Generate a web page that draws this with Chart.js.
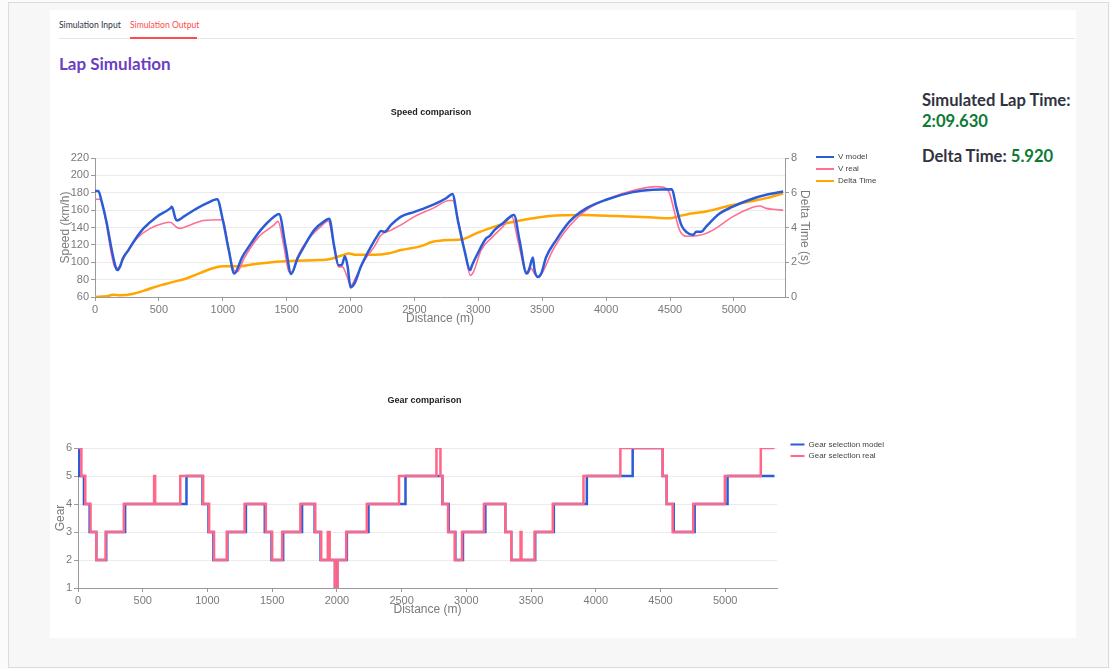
<!DOCTYPE html>
<html>
<head>
<meta charset="utf-8">
<title>Lap Simulation</title>
<script src="https://cdn.jsdelivr.net/npm/chart.js@4.4.1/dist/chart.umd.min.js"></script>
<style>
  html, body { margin: 0; padding: 0; }
  body { width: 1110px; height: 669px; position: relative; background: #fbfbfb; font-family: "Lato", "Noto Sans", sans-serif; overflow: hidden; }
  .frame { position: absolute; left: 8px; top: 2px; width: 1099px; height: 664px; border: 1px solid #dcdcdc; background: #f7f7f7; }
  .panel { position: absolute; left: 50px; top: 10px; width: 1026px; height: 628px; background: #fff; }
  .tab { position: absolute; top: 20px; font-size: 8.6px; color: #31333f; white-space: nowrap; }
  .tab.active { color: #ff4b4b; }
  .tabline { position: absolute; left: 59px; top: 38px; width: 1016px; height: 1px; background: #e4e4e4; }
  .tabsel { position: absolute; left: 130px; top: 37px; width: 67px; height: 2px; background: #ff4b4b; }
  h1 { position: absolute; left: 59px; top: 53px; margin: 0; font-size: 17px; font-weight: 700; color: #6b3fbf; }
  .stat { position: absolute; left: 922px; margin: 0; font-size: 16.6px; font-weight: 700; color: #31333f; white-space: nowrap; }
  .green { color: #0b7a33; }
  canvas { position: absolute; }
  #speed-chart { left: 40px; top: 100px; }
  #gear-chart { left: 40px; top: 390px; }
</style>
</head>
<body>
<div class="frame"></div>
<div class="panel"></div>
<div class="tab" style="left:59px">Simulation Input</div>
<div class="tab active" style="left:130px">Simulation Output</div>
<div class="tabline"></div>
<div class="tabsel"></div>
<h1>Lap Simulation</h1>
<div class="stat" style="top:90px">Simulated Lap Time:</div>
<div class="stat green" style="top:111px">2:09.630</div>
<div class="stat" style="top:146px">Delta Time: <span class="green">5.920</span></div>

<canvas id="speed-chart" width="870" height="232"></canvas>
<canvas id="gear-chart" width="867" height="233"></canvas>

<script>
// speed, model
const modelDist = [0, 26, 52, 92, 131, 165, 175, 196, 217, 262, 327, 380, 484, 589, 602, 628, 641, 694, 798, 877, 956,
  1000, 1047, 1090, 1152, 1204, 1296, 1401, 1440, 1492, 1535, 1584, 1636, 1715, 1793, 1833, 1872, 1906, 1932,
  1956, 1977, 2000, 2029, 2081, 2160, 2212, 2238, 2265, 2317, 2395, 2500, 2644, 2748, 2797, 2839, 2891, 2936, 2951, 2988,
  3061, 3087, 3126, 3192, 3279, 3322, 3378, 3400, 3427, 3440, 3466, 3492, 3531, 3609, 3713, 3844, 4000, 4209, 4366, 4515,
  4548, 4588, 4627, 4681, 4705, 4744, 4783, 4888, 4992, 5123, 5253, 5386];
const modelSpeed = [182, 182, 170, 145, 114, 93, 91, 95, 104, 114, 129, 139, 152.5, 162, 164, 151, 148, 152.5, 162, 168, 172.6,
  149, 114, 87, 106, 118, 137, 152.5, 155.5, 118, 86.5, 104, 118, 137, 147, 150, 118, 96.6, 97,
  107, 95, 71, 75, 95, 118, 131, 136, 135, 143, 152.5, 158, 166, 173.7, 178.7, 148.7, 114, 91, 96.6, 108,
  127.5, 130, 137, 145, 154.5, 125.5, 87, 93, 105.5, 91, 83, 87, 106, 125.5, 146.7, 162, 172, 180.7, 183.4, 184,
  164, 143, 135, 131.5, 135, 135, 141, 156, 164, 172, 177.6, 181.4];

// speed, real
const realDist = [0, 39, 79, 118, 149, 175, 202, 249, 327, 432, 537, 589, 641, 668, 746, 851, 1000, 1047, 1086, 1113, 1165,
  1270, 1401, 1432, 1479, 1518, 1545, 1584, 1663, 1767, 1825, 1867, 1906, 1937, 1964, 2003, 2042, 2107, 2186, 2238, 2317,
  2395, 2500, 2644, 2774, 2800, 2852, 2904, 2936, 2962, 3022, 3113, 3192, 3262, 3309, 3361, 3387, 3413, 3439, 3473, 3505,
  3583, 3687, 3844, 4053, 4209, 4394, 4470, 4496, 4535, 4575, 4627, 4731, 4836, 4992, 5123, 5204, 5253, 5305, 5386];
const realSpeed = [172.6, 172.6, 152.5, 118, 96.6, 93, 98, 112, 127.5, 139, 145, 146, 140, 139, 143, 148, 149, 114, 91, 89, 104,
  127.5, 143, 147, 118, 89, 89, 106, 125.5, 141, 147.5, 121.7, 94.7, 94.7, 87, 73.5, 83, 102, 118, 131, 137,
  143, 152.5, 162, 171, 171, 141, 106, 85, 89, 114, 129.5, 141, 152.5, 125.5, 93, 87, 93, 87, 83, 89,
  114, 137, 160, 175, 182.6, 187, 185, 179.6, 158, 137, 130, 131, 137, 152.5, 162, 164.7, 162, 161, 160];

// delta time (s)
const deltaDist = [0, 92, 144, 196, 301, 406, 510, 615, 720, 825, 956, 1000, 1139, 1244, 1401, 1558, 1715, 1820, 1924, 1990,
  2042, 2186, 2291, 2395, 2552, 2644, 2774, 2865, 2983, 3087, 3218, 3348, 3426, 3557, 3818, 4079, 4340, 4498, 4575, 4679,
  4783, 4888, 4992, 5123, 5253, 5386];
const deltaTime = [0, 0.04, 0.13, 0.1, 0.19, 0.42, 0.67, 0.87, 1.08, 1.39, 1.73, 1.77, 1.77, 1.89, 2.02, 2.08, 2.12, 2.16, 2.37, 2.5,
  2.43, 2.43, 2.5, 2.7, 2.93, 3.18, 3.28, 3.31, 3.66, 3.95, 4.24, 4.43, 4.53, 4.66, 4.72, 4.66, 4.59, 4.53, 4.66, 4.82,
  4.92, 5.11, 5.3, 5.49, 5.69, 5.97];

// gear, model (value holds from its distance until the next one)
const gearModelDist = [0, 8, 46, 90, 141, 218, 364, 838, 962, 1008, 1046, 1154, 1297, 1443, 1495, 1585, 1731, 1828, 1874, 1985,
  2003, 2077, 2244, 2530, 2815, 2864, 2915, 2974, 3147, 3301, 3347, 3532, 3676, 3931, 4285, 4517, 4548, 4602, 4764, 5018, 5380];
const gearModel = [6, 5, 4, 3, 2, 3, 4, 5, 4, 3, 2, 3, 4, 3, 2, 3, 4, 3, 2, 1,
  2, 3, 4, 5, 4, 3, 2, 3, 4, 3, 2, 3, 4, 5, 6, 5, 4, 3, 4, 5, 5];

// gear, real
const gearRealDist = [0, 26, 56, 97, 141, 213, 354, 588, 596, 790, 967, 1013, 1051, 1149, 1287, 1451, 1500, 1577, 1718, 1833,
  1879, 1930, 1944, 1985, 2005, 2072, 2231, 2480, 2769, 2800, 2815, 2859, 2910, 2967, 3136, 3301, 3347, 3419, 3426, 3527,
  3668, 3905, 4190, 4517, 4548, 4594, 4753, 4997, 5275, 5380];
const gearReal = [6, 5, 4, 3, 2, 3, 4, 5, 4, 5, 4, 3, 2, 3, 4, 3, 2, 3, 4, 3,
  2, 3, 2, 1, 2, 3, 4, 5, 6, 5, 4, 3, 2, 3, 4, 3, 2, 3, 2, 3,
  4, 5, 6, 5, 4, 3, 4, 5, 6, 6];

const distTicks = [0, 500, 1000, 1500, 2000, 2500, 3000, 3500, 4000, 4500, 5000];

function pts(xs, ys) {
  return xs.map((x, i) => ({ x: x, y: ys[i] }));
}

const tickFont = { family: 'Liberation Sans, Arial, sans-serif', size: 11 };
const titleFont = { family: 'Liberation Sans, Arial, sans-serif', size: 12 };
const legendFont = { family: 'Liberation Sans, Arial, sans-serif', size: 8 };
const axisGray = '#9a9a9a';
const textGray = '#7a7a7a';

// flat legend swatches, no outline
function flatLabels(chart) {
  return Chart.defaults.plugins.legend.labels.generateLabels(chart).map(l => {
    l.lineWidth = 0;
    return l;
  });
}

// nudges legend box and title centre after layout
const boxNudge = {
  id: 'boxNudge',
  afterLayout(chart, args, opts) {
    const lg = chart.legend;
    if (lg && opts.legendTop != null) {
      const h = lg.bottom - lg.top;
      lg.top = opts.legendTop;
      lg.bottom = opts.legendTop + h;
      lg.right = lg.left + opts.legendWidth;
      lg.width = opts.legendWidth;
    }
    const tb = chart.titleBlock;
    if (tb && opts.titleDx) {
      tb.left += opts.titleDx;
      tb.right += opts.titleDx;
    }
  }
};

function distanceAxis() {
  return {
    type: 'linear',
    min: 0,
    max: 5400,
    afterBuildTicks: s => { s.ticks = distTicks.map(v => ({ value: v })); },
    ticks: { font: tickFont, color: textGray, padding: 2, maxRotation: 0, autoSkip: false, callback: v => String(v) },
    grid: { drawOnChartArea: false, tickLength: 4, tickColor: axisGray },
    border: { color: axisGray },
    title: { display: true, text: 'Distance (m)', font: titleFont, color: textGray, padding: { top: 0, bottom: 6.5 } },
    afterFit: s => { s.height = 35; }
  };
}

new Chart(document.getElementById('speed-chart'), {
  type: 'line',
  data: {
    datasets: [
      { label: 'V model', data: pts(modelDist, modelSpeed), borderColor: '#2b5bd6', backgroundColor: '#2b5bd6',
        borderWidth: 2.5, pointRadius: 0, cubicInterpolationMode: 'monotone', yAxisID: 'y' },
      { label: 'V real', data: pts(realDist, realSpeed), borderColor: '#ff6f93', backgroundColor: '#ff6f93',
        borderWidth: 1.6, pointRadius: 0, cubicInterpolationMode: 'monotone', yAxisID: 'y' },
      { label: 'Delta Time', data: pts(deltaDist, deltaTime), borderColor: '#ffa600', backgroundColor: '#ffa600',
        borderWidth: 2.5, pointRadius: 0, cubicInterpolationMode: 'monotone', yAxisID: 'y1' }
    ]
  },
  options: {
    responsive: false,
    animation: false,
    layout: { padding: { right: 40 } },
    scales: {
      x: distanceAxis(),
      y: {
        position: 'left', min: 60, max: 220,
        ticks: { stepSize: 20, font: tickFont, color: textGray, padding: 2 },
        grid: { color: '#ebebeb', tickLength: 4, tickColor: axisGray },
        border: { color: axisGray },
        title: { display: true, text: 'Speed (km/h)', font: titleFont, color: textGray, padding: { top: 18 } },
        afterFit: s => { s.width = 55; }
      },
      y1: {
        position: 'right', min: 0, max: 8,
        ticks: { stepSize: 2, font: tickFont, color: textGray, padding: 2 },
        grid: { drawOnChartArea: false, tickLength: 4, tickColor: axisGray },
        border: { color: axisGray },
        title: { display: true, text: 'Delta Time (s)', font: titleFont, color: textGray, padding: { top: 0 } },
        afterFit: s => { s.width = 27; }
      }
    },
    plugins: {
      title: { display: true, text: 'Speed comparison', color: '#222', fullSize: false,
        font: { family: 'Liberation Sans, Arial, sans-serif', size: 9, weight: 'bold' }, padding: { top: 7.6, bottom: 39.6 } },
      legend: {
        position: 'right', align: 'start', maxWidth: 58,
        labels: { boxWidth: 18, boxHeight: 2, padding: 4, color: '#444', font: legendFont, generateLabels: flatLabels }
      },
      boxNudge: { legendTop: 49, legendWidth: 90, titleDx: -9 },
      tooltip: { enabled: false }
    }
  },
  plugins: [boxNudge]
});

new Chart(document.getElementById('gear-chart'), {
  type: 'line',
  data: {
    datasets: [
      { label: 'Gear selection model', data: pts(gearModelDist, gearModel), borderColor: '#2b5bd6', backgroundColor: '#2b5bd6',
        borderWidth: 2.5, pointRadius: 0, stepped: 'before', order: 1 },
      { label: 'Gear selection real', data: pts(gearRealDist, gearReal), borderColor: '#ff6688', backgroundColor: '#ff6688',
        borderWidth: 2.5, pointRadius: 0, stepped: 'before', order: 0 }
    ]
  },
  options: {
    responsive: false,
    animation: false,
    layout: { padding: { right: 50 } },
    scales: {
      x: distanceAxis(),
      y: {
        position: 'left', min: 1, max: 6,
        ticks: { stepSize: 1, font: tickFont, color: textGray, padding: 2 },
        grid: { color: '#ebebeb', tickLength: 4, tickColor: axisGray },
        border: { color: axisGray },
        title: { display: true, text: 'Gear', font: titleFont, color: textGray, padding: { top: 13.5 } },
        afterFit: s => { s.width = 38; }
      },
      yR: {
        position: 'right', min: 0, max: 1,
        ticks: { display: false },
        grid: { display: false },
        border: { display: false },
        afterFit: s => { s.width = 10; }
      }
    },
    plugins: {
      title: { display: true, text: 'Gear comparison', color: '#222', fullSize: false,
        font: { family: 'Liberation Sans, Arial, sans-serif', size: 9, weight: 'bold' }, padding: { top: 5.6, bottom: 41.6 } },
      legend: {
        position: 'right', align: 'start', maxWidth: 70,
        labels: { boxWidth: 14, boxHeight: 2, padding: 3.5, color: '#444', font: legendFont,
          generateLabels: flatLabels, sort: (a, b) => a.datasetIndex - b.datasetIndex }
      },
      boxNudge: { legendTop: 47, legendWidth: 110, titleDx: -3 },
      tooltip: { enabled: false }
    }
  },
  plugins: [boxNudge]
});
</script>
</body>
</html>
